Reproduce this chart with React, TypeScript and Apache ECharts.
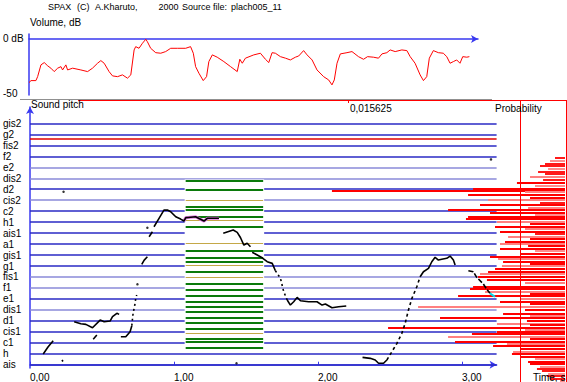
import React, { useEffect, useRef } from "react";
import * as echarts from "echarts";

const FONT = "'Liberation Sans', Arial, sans-serif";

// Note names of the pitch axis (semitone index 0 = ais ... 22 = gis2)
const noteNames = ["ais", "h", "c1", "cis1", "d1", "dis1", "e1", "f1", "fis1", "g1", "gis1", "a1", "ais1", "h1", "c2", "cis2", "d2", "dis2", "e2", "f2", "fis2", "g2", "gis2"];
const paleNoteLines = [5, 7, 8, 15, 17, 18];
const markerPitch = 20.57; // red reference line between fis2 and g2
const timeTicks = [0, 1, 2, 3];

// Volume curve: time (s), level (dB)
const volumeTime = [0, 0.014, 0.048, 0.06, 0.083, 0.106, 0.13, 0.152, 0.175, 0.199, 0.222, 0.233, 0.256, 0.268, 0.303, 0.36, 0.407, 0.441, 0.476, 0.499, 0.522, 0.556, 0.58, 0.615, 0.649, 0.684, 0.707, 0.73, 0.741, 0.764, 0.788, 0.811, 0.822, 0.845, 0.88, 0.915, 0.949, 0.984, 1.03, 1.088, 1.122, 1.141, 1.157, 1.18, 1.21, 1.233, 1.249, 1.273, 1.307, 1.353, 1.4, 1.446, 1.464, 1.481, 1.503, 1.561, 1.607, 1.642, 1.665, 1.688, 1.711, 1.746, 1.781, 1.815, 1.85, 1.873, 1.907, 1.931, 1.966, 2.0, 2.046, 2.081, 2.104, 2.12, 2.139, 2.162, 2.208, 2.243, 2.288, 2.323, 2.351, 2.392, 2.427, 2.451, 2.485, 2.508, 2.543, 2.589, 2.624, 2.647, 2.681, 2.716, 2.739, 2.762, 2.78, 2.808, 2.843, 2.877, 2.901, 2.924, 2.947, 2.97, 2.993, 3.012, 3.04, 3.058];
const volumeDb = [-39.7, -37.9, -37.9, -34.3, -23.6, -21.5, -24.5, -26.6, -29.7, -26.6, -25.2, -28.2, -23.6, -28.2, -26.6, -28.2, -29.7, -26.6, -22.1, -19.7, -22.1, -29.7, -33.6, -34.3, -32.7, -35.7, -32.7, -10.0, -7.0, -8.5, -3.9, -0.3, -2.5, -8.5, -12.5, -13.0, -11.5, -8.5, -8.5, -8.5, -7.0, -13.0, -25.2, -31.2, -37.9, -34.3, -20.6, -14.5, -16.6, -20.6, -25.2, -29.7, -18.5, -22.1, -17.5, -14.5, -13.0, -18.5, -21.5, -12.5, -13.0, -16.1, -17.5, -19.1, -16.6, -15.5, -10.6, -14.5, -19.1, -28.2, -34.3, -37.3, -41.8, -37.3, -22.1, -13.6, -12.5, -11.5, -16.1, -18.5, -16.1, -16.6, -17.5, -13.6, -12.5, -10.0, -11.5, -10.0, -10.6, -16.1, -22.1, -32.7, -37.9, -34.3, -17.5, -10.6, -12.5, -13.0, -16.1, -22.1, -20.6, -19.1, -22.1, -16.1, -16.6, -16.1];

// Pitch contour pieces: [time s, semitone above ais]
const pitchA = [[0.092, 0.98], [0.125, 1.61], [0.161, 2.19]];
const pitchB = [[0.222, 0.43], [0.229, 0.29]];
const pitchC = [[0.307, 3.92], [0.353, 3.74], [0.388, 3.68], [0.434, 3.37], [0.487, 4.07], [0.515, 3.92], [0.556, 3.98], [0.573, 4.38], [0.603, 4.69], [0.619, 4.59]];
const pitchD = [[0.439, 2.32], [0.464, 2.71]];
const pitchE = [[0.631, 2.55], [0.665, 2.55], [0.695, 3.01], [0.707, 3.56]];
const pitchERise = [[0.707, 3.56], [0.712, 4.23], [0.716, 4.69], [0.723, 5.14], [0.73, 5.6], [0.734, 6.05], [0.741, 6.35]];
const pitchF = [[0.776, 9.15], [0.793, 9.54], [0.815, 9.85]];
const pitchG = [[0.827, 11.67], [0.85, 12.12]];
const pitchH = [[0.861, 12.58], [0.896, 13.35], [0.93, 14.1], [0.954, 14.1], [0.977, 13.95], [1.012, 13.49], [1.046, 13.28], [1.069, 13.1], [1.081, 13.4], [1.15, 13.49], [1.208, 13.1], [1.231, 13.35], [1.312, 13.35]];
const pitchHighlight = [[1.069, 13.1], [1.081, 13.4], [1.15, 13.49], [1.208, 13.1], [1.231, 13.35], [1.312, 13.35]];
const pitchI = [[1.342, 11.98], [1.411, 12.28], [1.439, 12.07], [1.462, 11.58], [1.485, 10.91], [1.508, 11.07], [1.531, 10.76]];
const pitchJ1 = [[1.543, 10.25], [1.578, 10.0], [1.612, 9.75], [1.647, 9.39], [1.682, 9.24], [1.704, 8.57]];
const pitchJ2 = [[1.704, 8.57], [1.739, 7.88], [1.762, 6.65], [1.786, 5.9]];
const pitchJ3 = [[1.786, 5.9], [1.808, 5.44], [1.831, 5.74], [1.855, 6.14], [1.878, 5.83], [1.935, 5.74], [1.993, 5.74], [2.028, 5.44], [2.051, 5.53], [2.097, 5.2], [2.143, 5.29], [2.196, 5.35]];
const pitchK1 = [[2.309, 0.67], [2.363, 0.58], [2.397, 0.43], [2.42, 0.13], [2.455, 0.13], [2.478, 0.43]];
const pitchK2 = [[2.478, 0.43], [2.513, 1.19], [2.548, 1.95], [2.582, 2.86], [2.605, 3.77], [2.628, 4.99], [2.652, 6.05], [2.686, 7.11], [2.709, 8.02]];
const pitchK3 = [[2.709, 8.02], [2.732, 8.48], [2.767, 8.79], [2.79, 9.39], [2.813, 9.79], [2.836, 9.54], [2.859, 9.61], [2.894, 9.7], [2.917, 9.91], [2.94, 9.54], [2.952, 9.09]];
const pitchL = [[3.044, 8.57], [3.078, 8.48], [3.102, 7.97], [3.148, 7.36], [3.172, 6.87], [3.194, 6.51]];
const pitchTail = [[3.194, 6.51], [3.229, 6.2]];
const pitchDots = [[0.233, 15.77], [3.201, 18.72], [1.434, 0.13], [0.746, 7.33], [0.815, 12.49]];

// Green analysis block (time span and levels)
const blockStart = 1.081;
const blockEnd = 1.619;
const blockLow = 1.34;
const blockHigh = 16.88;
const greenLevels = [16.75, 15.93, 14.4, 14.1, 13.5, 12.6, 10.4, 9.75, 9.4, 8.5, 7.4, 6.8, 6.3, 5.75, 5.3, 4.85, 4.25, 3.8, 3.3, 2.4, 2.1, 1.55];
const oliveLevels = [15.0, 13.2, 11.1, 9.1, 8.0, 2.85];

// Pitch probability histogram: semitone, probability (per mille)
const histPitch = [18.84, 18.6, 18.34, 18.11, 17.84, 17.61, 17.38, 17.11, 16.84, 16.57, 16.29, 16.02, 15.86, 15.74, 15.47, 15.24, 15.01, 14.79, 14.56, 14.33, 14.1, 13.87, 13.65, 13.49, 13.28, 13.04, 12.83, 12.58, 12.37, 12.12, 11.91, 11.67, 11.46, 11.21, 11.05, 10.82, 10.61, 10.36, 10.14, 9.85, 9.7, 9.39, 9.18, 9.04, 8.79, 8.48, 8.31, 7.99, 7.72, 7.45, 7.11, 6.95, 6.65, 6.49, 6.26, 6.03, 5.74, 5.53, 5.29, 5.03, 4.69, 4.44, 4.26, 4.03, 3.77, 3.62, 3.41, 3.21, 3.01, 2.84, 2.55, 2.34, 2.1, 1.89, 1.7, 1.48, 1.19, 1.02, 0.73, 0.52, 0.25, 0.06, -0.16, -0.35, -0.57, -0.8, -1.03, -1.26, -1.44];
const histProb = [0.72, 1.08, 1.44, 1.8, 1.22, 1.94, 1.44, 2.52, 1.58, 3.46, 2.16, 6.62, 16.78, 2.88, 6.98, 2.52, 5.54, 1.8, 6.12, 2.66, 8.42, 5.4, 2.16, 6.98, 7.13, 4.9, 2.52, 5.04, 2.88, 4.68, 2.16, 4.1, 2.52, 4.32, 4.68, 2.66, 4.68, 2.16, 3.24, 5.4, 4.82, 4.46, 2.52, 4.54, 5.04, 5.54, 6.12, 6.26, 5.62, 2.88, 6.62, 6.84, 5.76, 2.52, 7.7, 3.24, 4.68, 2.52, 10.58, 2.88, 4.46, 2.52, 9.0, 2.74, 4.9, 2.52, 12.74, 2.88, 4.9, 6.7, 8.42, 2.52, 7.92, 4.18, 5.18, 3.24, 3.74, 3.82, 3.24, 2.16, 2.66, 2.52, 1.8, 2.02, 1.66, 1.22, 1.3, 1.08, 0.36];

const titleParts: [number, string][] = [[48, "SPAX"], [77, "(C)"], [95, "A.Kharuto,"], [158.5, "2000"], [182, "Source file:"], [231, "plach005_11"]];

const BLUE = "#3838f0";
const MAX_T = 3.24;

function txt(x: number, y: number, text: string, size = 10) {
  return {
    type: "text", x, y, z: 100, silent: true,
    style: { text, fill: "#000", font: `${size}px ${FONT}`, textAlign: "left", textVerticalAlign: "middle", align: "left", verticalAlign: "middle" },
  };
}
function seg(x1: number, y1: number, x2: number, y2: number, stroke: string) {
  return { type: "line", z: 100, silent: true, shape: { x1, y1, x2, y2 }, style: { stroke, lineWidth: 1 } };
}

export default function App() {
  const ref = useRef<HTMLDivElement>(null);
  useEffect(() => {
    if (!ref.current) return;
    const chart = echarts.init(ref.current, null, { renderer: "svg" });

    const pitchLine = (data: number[][], dash: any = "solid", color = "#000", width = 1.6, z = 6) => ({
      type: "line", xAxisIndex: 1, yAxisIndex: 1, data, showSymbol: false, z,
      lineStyle: { color, width, type: dash }, silent: true,
    });

    const noteLineData = noteNames.map((_, i) => ({
      coords: [[0, i], [MAX_T, i]],
      lineStyle: { color: paleNoteLines.includes(i) ? "#8a8ad8" : "#2a2ac4", width: 1.6, opacity: 1 },
    }));
    noteLineData.push({ coords: [[0, markerPitch], [MAX_T, markerPitch]], lineStyle: { color: "#e00000", width: 1.6, opacity: 1 } });

    const greenData = [
      ...greenLevels.map((s) => ({ coords: [[blockStart, s], [blockEnd, s]], lineStyle: { color: "#0b7a0b", width: 2.2, opacity: 1 } })),
      ...oliveLevels.map((s) => ({ coords: [[blockStart, s], [blockEnd, s]], lineStyle: { color: "#c4a848", width: 1.2, opacity: 1 } })),
    ];

    const histData = histPitch.map((s, i) => ({
      coords: [[0, s], [histProb[i], s]],
      lineStyle: { color: i % 3 === 1 ? "#ff8080" : "#ff0000", width: 1.8, opacity: 1 },
    }));

    const option: any = {
      animation: false,
      backgroundColor: "#fff",
      grid: [
        { left: 28, top: 34, width: 450, height: 61 },
        { left: 29, top: 107, width: 467.6, height: 261 },
        { left: 300, top: 107, width: 265, height: 275 },
      ],
      xAxis: [
        {
          gridIndex: 0, type: "value", min: 0, max: 3.118, position: "top",
          axisLine: { show: true, lineStyle: { color: BLUE, width: 1.5 }, symbol: ["none", "arrow"], symbolSize: [6, 7] },
          axisTick: { show: false }, axisLabel: { show: false }, splitLine: { show: false },
        },
        {
          gridIndex: 1, type: "value", min: 0, max: MAX_T,
          axisLine: { show: true, lineStyle: { color: BLUE, width: 1.5 }, symbol: ["none", "arrow"], symbolSize: [6, 7] },
          axisTick: { show: true, inside: true, length: 3, customValues: timeTicks, lineStyle: { color: BLUE } },
          axisLabel: {
            customValues: timeTicks, align: "left", margin: 4, fontSize: 10, fontFamily: FONT, color: "#000",
            formatter: (v: number) => v.toFixed(2).replace(".", ","),
          },
          splitLine: { show: false },
        },
        { gridIndex: 2, type: "value", min: 0, max: 19.08, inverse: true, show: false },
      ],
      yAxis: [
        {
          gridIndex: 0, type: "value", min: -51, max: 4.5,
          axisLine: { show: true, lineStyle: { color: BLUE, width: 1.5 } },
          axisTick: { show: false },
          axisLabel: {
            customValues: [0, -50], align: "left", margin: 26, fontSize: 10, fontFamily: FONT, color: "#000",
            formatter: (v: number) => (v === 0 ? "0 dB" : String(v)),
          },
          splitLine: { show: false },
        },
        {
          gridIndex: 1, type: "value", min: -0.3, max: 23.5,
          axisLine: { show: true, lineStyle: { color: BLUE, width: 1.5 }, symbol: ["none", "arrow"], symbolSize: [6, 7] },
          axisTick: { show: false },
          axisLabel: {
            customValues: noteNames.map((_, i) => i), align: "left", margin: 27, fontSize: 10, fontFamily: FONT, color: "#000",
            formatter: (v: number) => noteNames[Math.round(v)],
          },
          splitLine: { show: false },
        },
        { gridIndex: 2, type: "value", min: -1.576, max: 23.5, show: false },
      ],
      series: [
        {
          type: "line", xAxisIndex: 0, yAxisIndex: 0, showSymbol: false, silent: true,
          data: volumeTime.map((t, i) => [t, volumeDb[i]]),
          lineStyle: { color: "#ff0000", width: 1 },
        },
        {
          type: "lines", coordinateSystem: "cartesian2d", xAxisIndex: 1, yAxisIndex: 1, z: 1, silent: true,
          data: noteLineData, lineStyle: { opacity: 1 },
        },
        {
          type: "custom", xAxisIndex: 1, yAxisIndex: 1, z: 2, silent: true,
          data: [[blockStart - 0.007, blockLow, blockEnd + 0.007, blockHigh]],
          renderItem: (_p: any, api: any) => {
            const a = api.coord([api.value(0), api.value(3)]);
            const b = api.coord([api.value(2), api.value(1)]);
            return { type: "rect", shape: { x: a[0], y: a[1], width: b[0] - a[0], height: b[1] - a[1] }, style: { fill: "#ffffff" } };
          },
        },
        {
          type: "lines", coordinateSystem: "cartesian2d", xAxisIndex: 1, yAxisIndex: 1, z: 3, silent: true,
          data: greenData, lineStyle: { opacity: 1 },
        },
        {
          type: "lines", coordinateSystem: "cartesian2d", xAxisIndex: 2, yAxisIndex: 2, z: 4, silent: true,
          data: histData, lineStyle: { opacity: 1 },
        },
        pitchLine(pitchHighlight, "solid", "#e070e0", 3, 5),
        pitchLine(pitchA),
        pitchLine(pitchB),
        pitchLine(pitchC),
        pitchLine(pitchD),
        pitchLine(pitchE),
        pitchLine(pitchERise, [2, 3]),
        pitchLine(pitchF),
        pitchLine(pitchG),
        pitchLine(pitchH),
        pitchLine(pitchI),
        pitchLine(pitchJ1),
        pitchLine(pitchJ2, [2, 3]),
        pitchLine(pitchJ3),
        pitchLine(pitchK1),
        pitchLine(pitchK2, [3, 3]),
        pitchLine(pitchK3),
        pitchLine(pitchL, [5, 2]),
        pitchLine(pitchTail, "solid", "#00d8e8", 2),
        {
          type: "scatter", xAxisIndex: 1, yAxisIndex: 1, z: 6, silent: true,
          data: pitchDots, symbolSize: 2.5, itemStyle: { color: "#000" },
        },
      ],
      graphic: [
        ...titleParts.map(([x, t]) => txt(x, 7, t, 9)),
        txt(30, 22.5, "Volume, dB"),
        seg(20, 99.5, 492, 99.5, "#909090"),
        seg(78, 100.5, 566, 100.5, "#ff0000"),
        seg(566.5, 100, 566.5, 382, "#ff0000"),
        seg(520.5, 100, 520.5, 382, "#ff0000"),
        seg(348.5, 100, 348.5, 103, "#ff0000"),
        txt(31, 104.5, "Sound pitch"),
        txt(350, 108, "0,015625"),
        txt(495, 108, "Probability"),
        txt(533, 377, "Time, s"),
      ],
    };
    chart.setOption(option);
    return () => chart.dispose();
  }, []);
  return (
    <div
      ref={ref}
      style={{ position: "fixed", left: 0, top: 0, width: 567, height: 382, background: "#fff" }}
    />
  );
}
